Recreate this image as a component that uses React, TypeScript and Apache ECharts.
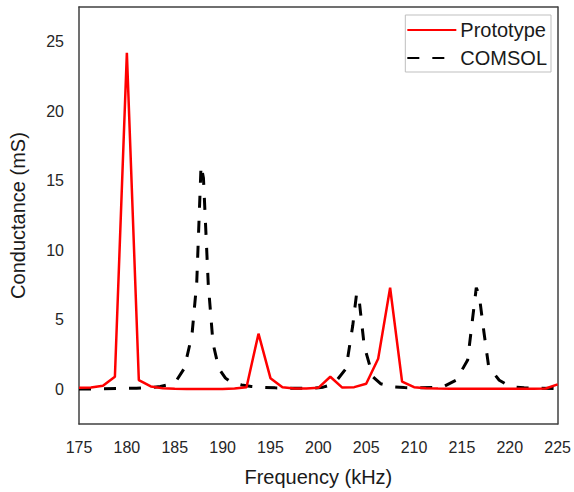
import React, { useEffect, useRef } from "react";
import * as echarts from "echarts";

const protoFreq = [
  175, 176.25, 177.5, 178.75, 180, 181.25, 182.5, 183.75, 185, 186.25, 187.5, 188.75, 190, 191.25,
  192.5, 193.75, 195, 196.25, 197.5, 198.75, 200, 201.25, 202.5, 203.75, 205, 206.25, 207.5, 208.75,
  210, 211.25, 212.5, 213.75, 215, 216.25, 217.5, 218.75, 220, 221.25, 222.5, 223.75, 225,
];
const protoValues = [
  0.1, 0.12, 0.25, 0.9, 24.2, 0.65, 0.2, 0.08, 0.04, 0.02, 0.02, 0.02, 0.02, 0.05,
  0.15, 4.0, 0.8, 0.15, 0.05, 0.05, 0.1, 0.9, 0.12, 0.15, 0.4, 2.2, 7.3, 0.55,
  0.15, 0.08, 0.05, 0.04, 0.03, 0.03, 0.03, 0.03, 0.03, 0.03, 0.03, 0.05, 0.35,
];

const comsolFreq = [
  175, 177, 179, 181, 182.5, 183.5, 184.5, 185.2, 186, 186.8, 187.3, 187.75, 188, 188.5, 189, 189.6,
  190.3, 191, 192, 193, 194, 195.5, 197, 198.5, 200, 200.5, 201.2, 202, 202.9, 203.6, 204, 204.3,
  204.8, 205.7, 206.5, 207.8, 209, 210.5, 212, 213, 214.4, 215.6, 216.1, 216.5, 216.8, 217.3, 217.8,
  218.9, 220.1, 221.5, 223, 225,
];
const comsolValues = [
  0.02, 0.03, 0.05, 0.08, 0.12, 0.2, 0.35, 0.65, 1.5, 3.9, 7.7, 16.1, 15.2, 7.6, 3.3, 1.5,
  0.8, 0.45, 0.3, 0.2, 0.14, 0.1, 0.08, 0.08, 0.1, 0.15, 0.3, 0.7, 1.5, 4.6, 6.9, 6.2,
  3.1, 0.9, 0.4, 0.17, 0.12, 0.1, 0.12, 0.17, 0.65, 2.1, 5.0, 7.3, 6.8, 4.1, 1.6,
  0.65, 0.17, 0.1, 0.08, 0.05,
];

const seriesNames = ["Prototype", "COMSOL"];
const xTitle = "Frequency (kHz)";
const yTitle = "Conductance (mS)";

const FONT = "Liberation Sans, Arial, sans-serif";
const BOX = { show: true, onZero: false, lineStyle: { color: "#404040", width: 1.5 } };

export default function App() {
  const ref = useRef<HTMLDivElement>(null);
  useEffect(() => {
    if (!ref.current) return;
    const chart = echarts.init(ref.current, undefined, { renderer: "svg" });
    const protoData = protoFreq.map((f, i) => [f, protoValues[i]]);
    const comsolData = comsolFreq.map((f, i) => [f, comsolValues[i]]);
    const hiddenAxisBits = {
      axisTick: { show: false },
      axisLabel: { show: false },
      splitLine: { show: false },
    };
    chart.setOption({
      animation: false,
      backgroundColor: "#ffffff",
      grid: { left: 78, right: 15, top: 7, bottom: 68 },
      legend: {
        orient: "vertical",
        right: 23,
        top: 15,
        itemWidth: 49,
        itemHeight: 14,
        itemGap: 8,
        padding: [5, 4, 4, 1],
        borderColor: "#bfbfbf",
        borderWidth: 1,
        backgroundColor: "#ffffff",
        itemStyle: { opacity: 0 },
        textStyle: { fontFamily: FONT, fontSize: 20, color: "#1a1a1a", padding: [0, 0, 0, -1] },
        data: seriesNames,
      },
      xAxis: [
        {
          type: "value",
          min: 175,
          max: 225,
          interval: 5,
          name: xTitle,
          nameLocation: "middle",
          nameGap: 43,
          nameTextStyle: { fontFamily: FONT, fontSize: 20, color: "#1a1a1a" },
          axisLine: BOX,
          axisTick: { show: false },
          splitLine: { show: false },
          axisLabel: { fontFamily: FONT, fontSize: 16, color: "#262626", margin: 15 },
        },
        {
          type: "value",
          position: "top",
          min: 175,
          max: 225,
          interval: 5,
          axisLine: BOX,
          ...hiddenAxisBits,
        },
      ],
      yAxis: [
        {
          type: "value",
          min: -2.5,
          max: 27.5,
          interval: 2.5,
          name: yTitle,
          nameLocation: "middle",
          nameGap: 51,
          nameTextStyle: { fontFamily: FONT, fontSize: 20, color: "#1a1a1a" },
          axisLine: BOX,
          axisTick: { show: false },
          splitLine: { show: false },
          axisLabel: {
            fontFamily: FONT,
            fontSize: 16,
            color: "#262626",
            margin: 15,
            formatter: (v: number) => (Math.abs(v % 5) < 1e-9 ? String(v) : ""),
          },
        },
        {
          type: "value",
          position: "right",
          min: -2.5,
          max: 27.5,
          interval: 2.5,
          axisLine: BOX,
          ...hiddenAxisBits,
        },
      ],
      series: [
        {
          name: seriesNames[0],
          type: "line",
          data: protoData,
          symbol: "none",
          showSymbol: false,
          z: 3,
          lineStyle: { color: "#ff0000", width: 2.5 },
          itemStyle: { color: "#ff0000" },
        },
        {
          name: seriesNames[1],
          type: "line",
          data: comsolData,
          symbol: "none",
          showSymbol: false,
          z: 2,
          lineStyle: { color: "#000000", width: 3, type: [12, 13] },
          itemStyle: { color: "#000000" },
        },
      ],
    });
    return () => chart.dispose();
  }, []);
  return (
    <div
      ref={ref}
      style={{ position: "fixed", left: 0, top: 0, width: 574, height: 492, background: "#fff" }}
    />
  );
}
